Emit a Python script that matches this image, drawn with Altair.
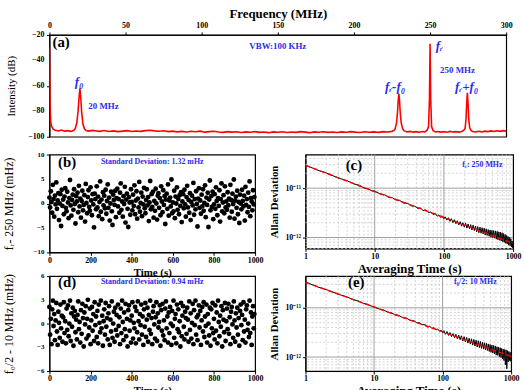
import altair as alt
import pandas as pd

SERIF = "Liberation Serif"
BLUE = "#2b2bef"

# ---------------- (a) RF spectrum ----------------
freq_mhz = [0, 0.4, 0.8, 1.5, 2.5, 4, 6, 8, 10, 12, 14, 16, 17, 18, 18.8, 19.4, 20, 20.6, 21.2, 22, 23, 24, 26, 28,
            30, 33, 36, 39, 42, 45, 48, 51, 54, 57, 60, 63, 66, 69, 72, 75, 78, 81, 84, 87, 90, 93, 96, 99,
            102, 105, 108, 111, 114, 117, 120, 123, 126, 129, 132, 135, 138, 141, 144, 147, 150, 153, 156, 159,
            162, 165, 168, 171, 174, 177, 180, 183, 186, 189, 192, 195, 198, 201, 204, 207, 210, 213, 216, 219, 222,
            224, 226, 227, 228, 228.6, 229.1, 229.5, 229.9, 230.4, 231, 232, 233,
            235, 237, 239, 241, 243, 245, 246.5, 248,
            249, 249.6, 250, 250.4, 251, 252,
            253.5, 255, 257, 259, 261, 263, 265, 267, 269, 271, 272,
            273, 273.6, 274.1, 274.5, 274.9, 275.4, 276, 277,
            278, 280, 282, 284, 286, 288, 290, 292, 294, 296, 298, 300]
power_db = [-30, -75, -88, -92, -94, -95, -95.5, -94.8, -95.6, -95.2, -95.8, -95.0, -93.5, -89, -80, -70, -62, -70, -81, -90, -93.8, -95.2, -95.6, -95.0,
            -95.3, -95.8, -95.1, -95.9, -95.4, -96.0, -95.6, -95.2, -95.9, -95.5, -95.8, -95.2, -94.9, -95.4, -95.7, -95.3, -96.0, -95.6, -96.2, -95.8, -96.3, -95.7, -96.1, -95.6,
            -96.4, -96.0, -95.7, -96.3, -96.6, -96.0, -96.4, -96.1, -96.7, -96.2, -96.5, -96.0, -96.6, -96.3, -96.8, -96.2, -96.5, -96.1, -96.7, -96.3,
            -96.6, -96.0, -96.4, -96.8, -96.2, -96.5, -96.1, -96.6, -96.3, -96.7, -96.2, -96.5, -96.0, -96.4, -96.7, -96.1, -96.5, -96.2, -96.6, -96.0, -96.3,
            -96.0, -95.3, -94.0, -89, -81, -71, -66, -71, -81, -89, -93.8, -95.4,
            -96.2, -95.8, -96.4, -96.0, -96.5, -95.9, -96.2, -95.0,
            -92, -70, -27, -70, -92, -95.3,
            -96.3, -95.9, -96.4, -96.0, -96.5, -95.8, -96.3, -96.0, -96.4, -95.7, -95.0,
            -93.5, -86, -73, -65.5, -73, -86, -93, -95.2,
            -95.9, -96.3, -95.7, -96.2, -95.6, -96.0, -95.4, -95.9, -95.3, -95.8, -95.2, -95.6]
freq_ticks = [0, 25, 50, 75, 100, 125, 150, 175, 200, 225, 250, 275, 300]
db_ticks = [-100, -80, -60, -40, -20]

# ---------------- (b) f_r - 250 MHz ----------------
b_vals = [1.2, -0.8, 2.5, 0.3, -1.9, 3.8, 0.9, -2.7, 1.6, -0.2, 4.3, -1.1, 0.6, 2.1, -3.4, 0.0, 1.9, -4.6, 2.8, -0.5,
          0.8, -2.2, 1.4, 3.1, -0.9, -1.6, 2.4, 0.2, -3.0, 1.1, 4.8, -0.4, -2.5, 0.7, 1.8, -1.3, 2.9, -0.1, -4.1, 1.5,
          0.4, 2.2, -1.8, 3.6, -0.6, 1.0, -2.9, 0.5, 2.6, -1.4, -0.3, 1.7, -3.7, 4.0, 0.1, -2.0, 1.3, 2.7, -0.7, -1.5,
          3.3, 0.6, -2.4, 1.9, -0.2, -4.9, 2.0, 0.9, -1.2, 3.5, -0.8, 1.4, -2.6, 0.3, 4.5, -1.7, 0.8, -3.2, 2.3, -0.4,
          1.6, -1.0, 2.8, -2.1, 0.5, 3.9, -0.9, 1.2, -3.5, 0.0, 2.4, -1.6, -4.4, 1.8, 0.7, -0.3, 2.6, -2.8, 1.1, 3.0,
          -0.6, 0.9, -1.9, 2.2, 4.1, -1.3, 0.4, -2.7, 1.5, -0.1, 3.4, -3.9, 0.8, 2.0, -1.1, -4.8, 1.3, 0.2, -2.3, 2.9,
          0.3, -1.4, 1.8, -0.5, 3.7, -2.2, 0.6, 2.5, -3.1, 1.0, -0.8, 4.4, -1.7, 0.1, 2.2, -2.6, 1.4, -0.2, 3.2, -1.0,
          -2.0, 0.7, 2.9, -0.4, 1.3, -3.6, 0.2, 4.6, -1.2, 1.9, -0.7, 2.4, -2.9, 0.5, -1.5, 3.0, 0.0, -3.3, 1.6, 2.1,
          -0.9, 1.1, -2.4, 3.5, 0.4, -1.8, 2.7, -0.3, 1.5, -4.2, 0.8, 2.0, -1.1, 3.9, -2.5, 0.6, 1.2, -0.6, 4.9, -2.0,
          0.2, -1.6, 2.6, -3.0, 1.4, 0.0, 3.3, -1.3, 0.9, -2.2, 1.7, -0.5, 2.3, -3.8, 0.4, 1.9, -1.0, 2.8, -0.2, -2.7,
          1.3, 3.6, -0.8, 0.7, -1.9, 2.1, -3.4, 0.3, 1.6, -0.4, 4.2, -2.3, 0.9, -1.2, 2.5, -0.1, -4.7, 1.0, 3.1, -0.9,
          0.6, -2.1, 1.8, -0.6, 2.9, -1.5, 0.1, 3.7, -2.8, 1.2, -0.3, 2.2, -4.8, 0.8, 4.7, -1.4, 1.5, -0.7, 2.4, -3.2,
          -0.2, 1.9, -1.1, 3.3, 0.5, -2.4, 1.1, -0.5, 2.7, -3.7, 0.9, 4.1, -1.6, 0.2, 1.7, -2.0, 3.5, -0.8, 0.4, -1.3,
          2.3, -0.4, 1.0, -2.9, 3.8, 0.7, -1.7, 2.0, -0.1, 4.9, -3.1, 0.6, 1.4, -0.9, 2.6, -2.2, 0.3, -4.0, 1.8, 0.0,
          -1.2, 2.8, 0.5, -0.6, 1.6, -3.5, 3.4, -0.3, 0.9, -1.8, 2.2, -0.7, 4.5, -2.6, 1.1, 0.4, -1.4, 2.7, -0.2, 1.3]
b_ticks = [-10, -5, 0, 5, 10]

# ---------------- (d) f_0/2 - 10 MHz ----------------
d_vals = [2.1, -1.4, 0.6, -2.6, 1.8, 2.9, -0.3, 1.2, -2.1, 0.4, 2.6, -1.0, -2.7, 1.5, 0.1, -1.8, 2.4, -0.6, 1.0, -2.3,
          0.8, 2.7, -1.2, 0.3, -2.5, 1.9, -0.8, 2.3, -1.6, 0.0, 2.9, -2.2, 1.3, -0.4, 2.0, -2.8, 0.9, 1.6, -1.1, 0.5,
          -2.0, 1.1, 2.8, -0.7, 0.2, -2.4, 1.7, -1.3, 2.5, 0.7, -2.9, 1.4, -0.1, 2.2, -1.9, 0.6, 3.0, -1.5, -0.5, 1.9,
          -2.6, 0.4, 2.1, -0.9, 1.2, -2.2, 2.7, -0.2, 0.9, -1.7, 1.6, -2.5, 2.4, 0.1, -1.1, 2.9, -0.6, 1.0, -2.8, 0.3,
          1.8, -1.4, 2.6, -0.4, 0.7, -2.0, 1.3, 2.2, -2.7, 0.5, -1.0, 2.8, -1.8, 0.0, 1.5, -2.3, 2.0, -0.8, 1.1, -1.5,
          2.4, -0.3, 0.8, -2.6, 1.9, -1.2, 2.9, 0.2, -2.1, 1.4, -0.7, 2.5, -1.6, 0.6, -2.9, 1.7, 2.3, -0.9, 0.4, -2.4,
          1.0, 2.7, -1.9, 0.1, -0.6, 2.1, -2.5, 1.6, -1.1, 2.8, 0.3, -2.0, 1.2, -0.2, 2.4, -1.4, 0.9, -2.7, 1.8, -0.4,
          2.6, -1.7, 0.5, 2.0, -2.3, 1.1, -0.8, 2.9, -1.3, 0.7, -2.6, 1.5, 2.2, -0.1, -1.9, 0.8, 2.7, -2.2, 1.3, -0.5,
          0.2, 2.3, -2.8, 1.7, -0.9, 2.5, -1.5, 0.4, -2.1, 1.9, 2.8, -0.6, 0.9, -2.4, 1.4, -1.2, 2.1, 0.0, -2.7, 1.6,
          -0.3, 2.9, -1.8, 0.6, 1.2, -2.5, 2.4, -0.7, 1.8, -1.1, 0.3, -2.9, 2.6, -1.6, 1.0, 2.2, -0.4, -2.0, 1.5, 0.7,
          -1.3, 2.0, 0.5, -2.3, 2.8, -0.8, 1.3, -1.9, 0.1, 2.5, -2.6, 1.7, -0.2, 2.9, -1.4, 0.8, -2.1, 1.1, 2.3, -0.5,
          1.6, -2.7, 0.4, 2.1, -1.0, 2.7, -1.7, 0.9, -0.3, 2.4, -2.4, 1.2, 0.0, -1.5, 2.0, -2.8, 1.8, -0.6, 2.6, -1.2,
          0.6, -2.0, 2.3, -0.9, 1.4, -2.5, 2.9, 0.2, -1.6, 1.0, -0.4, 2.2, -2.9, 1.7, 0.5, -1.1, 2.6, -2.2, 0.3, 1.9,
          -0.7, 2.5, -1.3, 0.8, -2.6, 1.5, 2.1, -0.1, -1.8, 2.8, 0.4, -2.3, 1.3, -0.5, 2.0, -1.4, 0.7, -2.8, 1.6, 2.4,
          -0.2, 1.1, -2.1, 2.7, -1.0, 0.5, -2.4, 1.8, 2.3, -0.8, 0.0, -1.7, 2.9, -1.2, 1.4, -2.7, 0.9, 2.2, -0.6, 1.2]
d_ticks = [-6, -3, 0, 3, 6]

time_ticks = [0, 200, 400, 600, 800, 1000]

# ---------------- (c), (e) Allan deviation (units of 1e-12) ----------------
tau_s = [1, 1.5, 2, 3, 4, 5, 6, 7, 8, 9, 10, 12, 14, 16, 18, 20, 23, 26, 30, 34, 38, 42, 46, 50, 55, 60, 65, 70, 75, 80,
         85, 90, 95, 100, 104, 110, 116, 122, 128, 135, 142, 149, 156, 164, 172, 180, 188, 197, 206, 215, 224, 234,
         244, 254, 264, 275, 286, 297, 308, 320, 332, 344, 356, 369, 382, 395, 408, 422, 436, 450, 464, 479, 494,
         509, 524, 540, 556, 572, 588, 605, 622, 639, 656, 674, 692, 710, 728, 747, 766, 785, 804, 824, 844, 864,
         884, 905, 926, 947, 968, 990, 1000]
adev_c = [29.3, 23.1, 20.3, 16.0, 14.1, 12.2, 11.4, 10.1, 9.7, 8.9, 8.7, 7.6, 7.3, 6.5, 6.4, 5.8, 5.65, 5.0, 4.9, 4.35,
          4.3, 3.88, 3.95, 3.52, 3.6, 3.2, 3.3, 2.92, 3.08, 2.7, 2.88, 2.55, 2.75, 2.4, 2.62, 2.25, 2.52, 2.12, 2.41,
          2.0, 2.3, 1.9, 2.18, 1.8, 2.1, 1.7, 2.0, 1.62, 1.95, 1.55, 1.88, 1.5, 1.82, 1.42, 1.78, 1.38, 1.7, 1.3, 1.66,
          1.25, 1.62, 1.22, 1.58, 1.18, 1.55, 1.12, 1.5, 1.1, 1.45, 1.06, 1.42, 1.02, 1.4, 1.0, 1.38, 0.97, 1.36, 0.93,
          1.33, 0.9, 1.3, 0.88, 1.28, 0.85, 1.25, 0.82, 1.2, 0.8, 1.15, 0.76, 1.1, 0.74, 1.05, 0.7, 1.0, 0.68, 0.95,
          0.64, 0.85, 0.6, 0.72]
adev_e = [33.4, 26.6, 23.5, 18.9, 16.7, 14.6, 13.6, 12.3, 11.8, 10.9, 10.55, 9.4, 8.95, 8.1, 7.9, 7.25, 7.0, 6.35, 6.15,
          5.5, 5.5, 4.95, 5.0, 4.52, 4.6, 4.12, 4.25, 3.8, 3.95, 3.55, 3.72, 3.35, 3.52, 3.15, 3.45, 2.9, 3.3, 2.75, 3.15,
          2.6, 3.0, 2.48, 2.9, 2.35, 2.8, 2.25, 2.7, 2.12, 2.6, 2.02, 2.5, 1.92, 2.42, 1.83, 2.35, 1.75, 2.28, 1.68, 2.2,
          1.6, 2.15, 1.55, 2.08, 1.5, 2.0, 1.45, 1.95, 1.4, 1.9, 1.36, 1.85, 1.3, 1.8, 1.25, 1.75, 1.2, 1.72, 1.15, 1.68,
          1.1, 1.62, 1.08, 1.58, 1.02, 1.55, 0.98, 1.5, 0.92, 1.45, 0.85, 1.42, 0.7, 1.4, 0.58, 1.35, 0.8, 1.3, 0.85,
          1.25, 0.82, 1.1]
fit_tau = [1, 10, 100, 1000]
fit_c = [29.0, 8.5, 2.55, 0.76]
fit_e = [33.0, 10.4, 3.25, 1.03]
tau_major = [10, 100]
tau_minor = [2, 3, 4, 5, 6, 7, 8, 9, 20, 30, 40, 50, 60, 70, 80, 90, 200, 300, 400, 500, 600, 700, 800, 900]
adev_major = [1, 10]
adev_minor = [0.6, 0.7, 0.8, 0.9, 2, 3, 4, 5, 6, 7, 8, 9, 20, 30, 40]


def notes(xs, ys, texts):
    return pd.DataFrame({"x": xs, "y": ys, "t": texts})


def text_layer(df, **kw):
    return alt.Chart(df).mark_text(**kw).encode(x=alt.X("x:Q"), y=alt.Y("y:Q"), text="t:N")


def y_tick_labels(vals, size):
    # tick labels of the left axis, placed through the y scale
    return alt.Chart(pd.DataFrame({"y": vals})).mark_text(
        align="right", baseline="middle", font=SERIF, fontWeight="bold", fontSize=size, color="black"
    ).encode(x=alt.value(-5), y=alt.Y("y:Q"), text=alt.Text("y:Q", format="d"))


# ---------- panel (a) ----------
spec = pd.DataFrame({"x": freq_mhz, "y": power_db})
a_line = alt.Chart(spec).mark_line(color="#ff0000", strokeWidth=1.6, clip=True).encode(
    x=alt.X("x:Q", scale=alt.Scale(domain=[0, 300], nice=False),
            axis=alt.Axis(orient="top", title="Frequency (MHz)", values=freq_ticks, titleFontSize=13,
                          labelExpr="datum.value % 50 == 0 ? datum.label : ''", titlePadding=2)),
    y=alt.Y("y:Q", scale=alt.Scale(domain=[-100, -20], nice=False),
            axis=alt.Axis(title="Intensity (dB)", values=db_ticks, titleFontWeight="normal", titleFontSize=11,
                          labels=False, minExtent=3, maxExtent=3, titlePadding=30)),
)
a_lab = text_layer(notes([2], [-26], ["(a)"]), align="left", font=SERIF, fontWeight="bold", fontSize=15, color="black")
a_blue = text_layer(notes([150, 268, 35.5], [-28.5, -47.7, -76], ["VBW:100 KHz", "250 MHz", "20 MHz"]),
                    font=SERIF, fontWeight="bold", fontSize=9, color=BLUE)
a_ital = text_layer(notes([19.5, 256, 227, 274], [-57.3, -28.5, -61, -61], ["f₀", "fᵣ", "fᵣ-f₀", "fᵣ+f₀"]),
                    font=SERIF, fontStyle="italic", fontWeight="bold", fontSize=13, color=BLUE)
panel_a = alt.layer(a_line, y_tick_labels(db_ticks, 8), a_lab, a_blue, a_ital).properties(width=462, height=103)


# ---------- scatter panels ----------
def scatter(vals, dom, yticks, ytitle, label, sd_text, ylab_y):
    n = len(vals)
    df = pd.DataFrame({"x": [i * 1000 / n for i in range(n)], "y": vals})
    pts = alt.Chart(df).mark_circle(size=24, color="black", opacity=1).encode(
        x=alt.X("x:Q", scale=alt.Scale(domain=[0, 1000], nice=False),
                axis=alt.Axis(title="Time (s)", values=time_ticks, format="d", titleFontSize=11,
                              titlePadding=2, labelPadding=1)),
        y=alt.Y("y:Q", scale=alt.Scale(domain=dom, nice=False),
                axis=alt.Axis(title=ytitle, values=yticks, titleFontWeight="normal", titleFontSize=12,
                              labels=False, minExtent=3, maxExtent=3, titlePadding=31)),
    )
    lab = text_layer(notes([86], [ylab_y], [label]), font=SERIF, fontWeight="bold", fontSize=15, color="black")
    sd = text_layer(notes([500], [ylab_y], [sd_text]), font=SERIF, fontWeight="bold", fontSize=8, color=BLUE)
    return alt.layer(pts, y_tick_labels(yticks, 7), lab, sd)


panel_b = scatter(b_vals, [-10, 10], b_ticks, "fᵣ- 250 MHz (mHz)", "(b)",
                  "Standard Deviation: 1.32 mHz", 8.4).properties(width=208, height=99)
panel_d = scatter(d_vals, [-6, 6], d_ticks, "f₀/2 - 10 MHz (mHz)", "(d)",
                  "Standard Deviation: 0.94 mHz", 5.2).properties(width=208, height=96)


# ---------- Allan panels ----------
def allan(adev, fit, ydom, label, lab_tau, lab_y, note_text, note_tau):
    xs = alt.Scale(type="log", domain=[1, 1000], nice=False)
    ys = alt.Scale(type="log", domain=ydom, nice=False)
    gx_minor = alt.Chart(pd.DataFrame({"x": tau_minor})).mark_rule(color="#c8c8c8", strokeDash=[2, 2], strokeWidth=0.8).encode(
        x=alt.X("x:Q", scale=xs))
    gy_minor = alt.Chart(pd.DataFrame({"y": adev_minor})).mark_rule(color="#c8c8c8", strokeDash=[2, 2], strokeWidth=0.8).encode(
        y=alt.Y("y:Q", scale=ys))
    gx_major = alt.Chart(pd.DataFrame({"x": tau_major})).mark_rule(color="#a0a0a0", strokeWidth=1).encode(
        x=alt.X("x:Q", scale=xs))
    gy_major = alt.Chart(pd.DataFrame({"y": adev_major})).mark_rule(color="#a0a0a0", strokeWidth=1).encode(
        y=alt.Y("y:Q", scale=ys))
    data = alt.Chart(pd.DataFrame({"x": tau_s, "y": adev})).mark_line(color="black", strokeWidth=1, clip=True).encode(
        x=alt.X("x:Q", scale=xs, axis=alt.Axis(title="Averaging Time (s)", values=[1, 10, 100, 1000], format="d",
                                               titleFontSize=13, titlePadding=2, labelPadding=1)),
        y=alt.Y("y:Q", scale=ys, axis=alt.Axis(title="Allan Deviation", values=[1, 10], titleFontSize=11,
                                               labelExpr="datum.value >= 10 ? '10⁻¹¹' : '10⁻¹²'",
                                               titlePadding=6, labelPadding=2)),
    )
    fitl = alt.Chart(pd.DataFrame({"x": fit_tau, "y": fit})).mark_line(color="#ff0000", strokeDash=[5, 3], strokeWidth=1.4).encode(
        x="x:Q", y="y:Q")
    lab = text_layer(notes([lab_tau], [lab_y], [label]), font=SERIF, fontWeight="bold", fontSize=15, color="black")
    note = text_layer(notes([note_tau], [lab_y], [note_text]), font=SERIF, fontWeight="bold", fontSize=8, color=BLUE)
    return alt.layer(gx_minor, gy_minor, gx_major, gy_major, data, fitl, lab, note)


panel_c = allan(adev_c, fit_c, [0.6, 48], "(c)", 5, 30, "fᵣ: 250 MHz", 360).properties(width=210, height=95)
panel_e = allan(adev_e, fit_e, [0.52, 44], "(e)", 5.5, 33, "f₀/2: 10 MHz", 300).properties(width=208, height=96)

lower = alt.ConcatChart(concat=[panel_b, panel_c, panel_d, panel_e], columns=2,
                        spacing={"row": 24, "column": 51}, bounds="flush")

chart = alt.VConcatChart(vconcat=[panel_a, lower], spacing=8).properties(
    padding={"left": 2, "top": 4, "right": 2, "bottom": 0}
).configure_view(stroke="black", strokeWidth=1.2).configure_axis(
    labelFont=SERIF, labelFontWeight="bold", labelFontSize=8, labelColor="black",
    titleFont=SERIF, titleFontWeight="bold", titleFontSize=12, titleColor="black",
    domainColor="black", tickColor="black", tickSize=3, grid=False,
    labelOverlap=False, labelFlush=False,
)

chart.save("out.html", embed_options={"renderer": "svg", "actions": False})
